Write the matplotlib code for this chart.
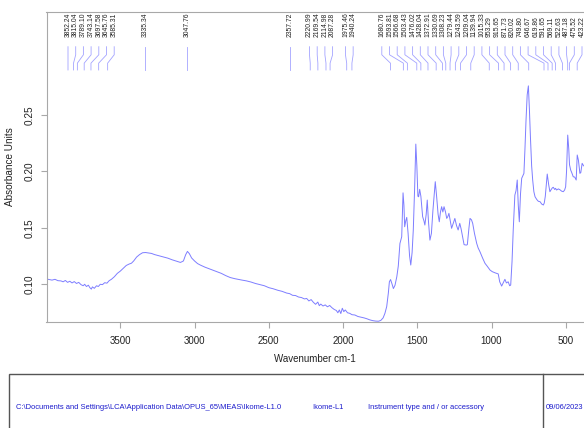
import numpy as np
import matplotlib.pyplot as plt
from matplotlib.patches import Rectangle
from matplotlib.lines import Line2D

plt.rcParams['font.family'] = ['Liberation Sans', 'DejaVu Sans']

# spectrum, wavenumber (cm-1) vs absorbance
wavenumber = [
    3997, 3980, 3960, 3940, 3920, 3900, 3885, 3870, 3855, 3840, 3825, 3810,
    3795, 3780, 3765, 3750, 3740, 3728, 3715, 3705, 3695, 3688, 3675, 3660,
    3648, 3635, 3620, 3605, 3590, 3575, 3560, 3540, 3520, 3500, 3480, 3460,
    3440, 3425, 3410, 3390, 3370, 3350, 3330, 3310, 3290, 3270, 3250, 3230,
    3210, 3180, 3150, 3120, 3095, 3075, 3060, 3048, 3035, 3020, 3000, 2980,
    2960, 2930, 2900, 2870, 2850, 2820, 2790, 2760, 2730, 2700, 2680, 2650,
    2620, 2590, 2560, 2530, 2500, 2470, 2440, 2410, 2380, 2360, 2340, 2320,
    2300, 2280, 2260, 2245, 2230, 2215, 2200, 2185, 2170, 2160, 2150, 2135,
    2120, 2105, 2090, 2075, 2060, 2045, 2035, 2025, 2015, 2005, 1995, 1985,
    1970, 1955, 1940, 1920, 1900, 1880, 1860, 1840, 1820, 1800, 1780, 1760,
    1745, 1730, 1718, 1706, 1695, 1688, 1680, 1670, 1661, 1650, 1638, 1628,
    1617, 1605, 1596, 1590, 1585, 1578, 1571, 1562, 1552, 1544, 1535, 1527,
    1518, 1510, 1503, 1496, 1491, 1484, 1476, 1464, 1455, 1449, 1440, 1433,
    1425, 1415, 1405, 1395, 1379, 1370, 1360, 1352, 1344, 1336, 1328, 1320,
    1310, 1302, 1294, 1287, 1278, 1269, 1258, 1247, 1236, 1225, 1214, 1205,
    1195, 1185, 1170, 1163, 1152, 1145, 1135, 1127, 1115, 1100, 1090, 1078,
    1060, 1044, 1030, 1010, 995, 977, 965, 955, 945, 932, 922, 910,
    900, 888, 878, 871, 862, 854, 843, 835, 827, 820, 813, 805,
    797, 782, 775, 768, 760, 752, 745, 738, 730, 723, 715, 707,
    695, 685, 673, 662, 651, 645, 638, 625, 615, 607, 598, 590,
    584, 575, 569, 562, 550, 539, 528, 517, 508, 501, 495, 487,
    480, 475, 467, 460, 450, 440, 430, 423, 415, 405, 399, 390,
    380,
]
absorbance = [
    0.1045, 0.1040, 0.1035, 0.1042, 0.1030, 0.1028, 0.1020, 0.1032, 0.1015, 0.1025, 0.1010, 0.1022,
    0.1005, 0.1015, 0.0995, 0.0985, 0.0998, 0.0978, 0.0990, 0.0968, 0.0955, 0.0975, 0.0962, 0.0985,
    0.0978, 0.0998, 0.0995, 0.1012, 0.1008, 0.1030, 0.1042, 0.1065, 0.1095, 0.1115, 0.1140, 0.1165,
    0.1178, 0.1185, 0.1205, 0.1240, 0.1262, 0.1278, 0.1280, 0.1276, 0.1272, 0.1262, 0.1255, 0.1248,
    0.1242, 0.1230, 0.1215, 0.1203, 0.1192, 0.1205, 0.1260, 0.1290, 0.1270, 0.1232, 0.1205, 0.1182,
    0.1168, 0.1150, 0.1135, 0.1120, 0.1110, 0.1095, 0.1075, 0.1058, 0.1048, 0.1040, 0.1035, 0.1028,
    0.1018, 0.1005, 0.0995, 0.0985, 0.0968, 0.0958, 0.0945, 0.0935, 0.0920, 0.0915, 0.0900, 0.0898,
    0.0885, 0.0880, 0.0868, 0.0872, 0.0850, 0.0862, 0.0838, 0.0820, 0.0840, 0.0808, 0.0822, 0.0805,
    0.0815, 0.0798, 0.0810, 0.0790, 0.0775, 0.0765, 0.0745, 0.0770, 0.0738, 0.0785, 0.0755, 0.0770,
    0.0745, 0.0740, 0.0728, 0.0725, 0.0712, 0.0706, 0.0700, 0.0692, 0.0682, 0.0675, 0.0671, 0.0670,
    0.0678, 0.0700, 0.0740, 0.0800, 0.0920, 0.1020, 0.1040, 0.1000, 0.0960, 0.0990, 0.1065, 0.1160,
    0.1360, 0.1420, 0.1810, 0.1700, 0.1509, 0.1560, 0.1592, 0.1450, 0.1250, 0.1169, 0.1280, 0.1480,
    0.1850, 0.2243, 0.2050, 0.1780, 0.1775, 0.1841, 0.1780, 0.1598, 0.1560, 0.1524, 0.1620, 0.1746,
    0.1560, 0.1390, 0.1450, 0.1650, 0.1909, 0.1780, 0.1620, 0.1553, 0.1640, 0.1687, 0.1640, 0.1687,
    0.1640, 0.1583, 0.1600, 0.1628, 0.1560, 0.1495, 0.1540, 0.1583, 0.1520, 0.1480, 0.1539, 0.1490,
    0.1420, 0.1350, 0.1346, 0.1350, 0.1500, 0.1583, 0.1570, 0.1539, 0.1450, 0.1361, 0.1320, 0.1287,
    0.1230, 0.1184, 0.1160, 0.1124, 0.1110, 0.1100, 0.1095, 0.1090, 0.1020, 0.0982, 0.1010, 0.1042,
    0.1010, 0.1020, 0.0985, 0.0991, 0.1200, 0.1480, 0.1790, 0.1830, 0.1924, 0.1700, 0.1553, 0.1800,
    0.1939, 0.1983, 0.2200, 0.2450, 0.2680, 0.2760, 0.2550, 0.2300, 0.2050, 0.1924, 0.1820, 0.1775,
    0.1750, 0.1735, 0.1731, 0.1710, 0.1702, 0.1720, 0.1780, 0.1977, 0.1880, 0.1820, 0.1840, 0.1855,
    0.1859, 0.1840, 0.1850, 0.1835, 0.1845, 0.1837, 0.1825, 0.1820, 0.1835, 0.1864, 0.2000, 0.2323,
    0.2200, 0.2060, 0.2012, 0.1990, 0.1953, 0.1950, 0.1924, 0.2146, 0.2100, 0.1983, 0.1990, 0.2072,
    0.2050,
]

# peak picks written above the spectrum
peaks = [
    3852.24, 3815.04, 3789.10, 3743.14, 3697.58, 3645.76, 3585.31, 3335.34,
    3047.76, 2357.72, 2220.99, 2169.54, 2114.98, 2087.28, 1975.46, 1940.24,
    1680.76, 1593.81, 1566.68, 1503.43, 1476.02, 1428.04, 1372.91, 1330.69,
    1308.23, 1279.44, 1243.59, 1209.04, 1139.94, 1015.33, 953.29, 915.65,
    871.73, 820.02, 749.80, 646.67, 619.86, 591.65, 569.11, 522.63,
    487.18, 475.52, 423.22,
]

x_ticks = [3500, 3000, 2500, 2000, 1500, 1000, 500]
y_ticks = [0.10, 0.15, 0.20, 0.25]

file_path = r'C:\Documents and Settings\LCA\Application Data\OPUS_65\MEAS\Ikome-L1.0'
sample_name = 'Ikome-L1'
instrument = 'Instrument type and / or accessory'
meas_date = '09/06/2023'

W, H = 584, 428
fig = plt.figure(figsize=(W / 100, H / 100), dpi=100)
ax = fig.add_axes([46.5 / W, (H - 322) / H, (W - 46.5) / W, 310 / H])

spec_col = '#7d7dff'
frame_col = '#a8a8a8'
ax.plot(wavenumber, absorbance, color=spec_col, lw=0.7)
ax.set_xlim(3997, 377.4)
ax.set_ylim(0.0663, 0.3416)

for side in ['top', 'left', 'bottom']:
    ax.spines[side].set_color(frame_col)
    ax.spines[side].set_linewidth(0.8)
ax.spines['right'].set_visible(False)

ax.set_xticks(x_ticks)
ax.set_xticklabels([str(t) for t in x_ticks])
ax.set_yticks(y_ticks)
ax.set_yticklabels([f'{t:.2f}' for t in y_ticks], rotation=90, va='center')
ax.tick_params(axis='x', length=4, width=0.8, color=frame_col, pad=6,
               labelsize=7, labelcolor='#222222')
ax.tick_params(axis='y', length=4.5, width=0.8, color=frame_col, pad=4,
               labelsize=7.2, labelcolor='#222222')
ax.set_xlabel('Wavenumber cm-1', fontsize=7, color='#222222')
ax.set_ylabel('Absorbance Units', fontsize=7.2, color='#222222')
ax.xaxis.set_label_coords(0.5, -0.103)
ax.yaxis.set_label_coords(-0.058, 0.5)


def spread(xs, gap, lo, hi):
    # push crowded labels apart, keeping each group centred on its peaks
    groups = [[x] for x in xs]

    def place(g):
        start = np.mean(g) - (len(g) - 1) / 2 * gap
        return min(max(start, lo), hi - (len(g) - 1) * gap)

    merged = True
    while merged:
        merged = False
        for i in range(len(groups) - 1):
            end_i = place(groups[i]) + (len(groups[i]) - 1) * gap
            if place(groups[i + 1]) - end_i < gap - 1e-9:
                groups[i] = groups[i] + groups.pop(i + 1)
                merged = True
                break
    out = []
    for g in groups:
        s = place(g)
        out += [s + k * gap for k in range(len(g))]
    return out


fig.canvas.draw()
peak_px = [ax.transData.transform((p, 0.1))[0] for p in peaks]
label_px = spread(peak_px, 7.7, 68, 582)
inv = ax.transData.inverted()
label_x = [inv.transform((px, 0))[0] for px in label_px]

trans = ax.get_xaxis_transform()
for p, lx in zip(peaks, label_x):
    ax.plot([lx, lx, p, p], [0.888, 0.862, 0.835, 0.813], color='#a3a3ff',
            lw=0.6, transform=trans, clip_on=False)
    ax.text(lx, 0.918, f'{p:.2f}', rotation=90, ha='center', va='bottom',
            fontsize=4.9, color='#222222', transform=trans)

# info box along the bottom
box_top = (H - 374) / H
fig.add_artist(Rectangle((9 / W, -0.1), 1.2, box_top + 0.1, transform=fig.transFigure,
                         fill=False, ec='#555555', lw=1.0))
fig.add_artist(Line2D([543 / W, 543 / W], [0, box_top], transform=fig.transFigure,
                      color='#555555', lw=1.0))
info_y = (H - 407.7) / H
info_col = '#1a1acc'
for txt, px in [(file_path, 15.6), (sample_name, 312), (instrument, 368), (meas_date, 545.6)]:
    fig.text(px / W, info_y, txt, fontsize=5.4, color=info_col, ha='left', va='center')

fig.savefig('out.png', dpi=100)
